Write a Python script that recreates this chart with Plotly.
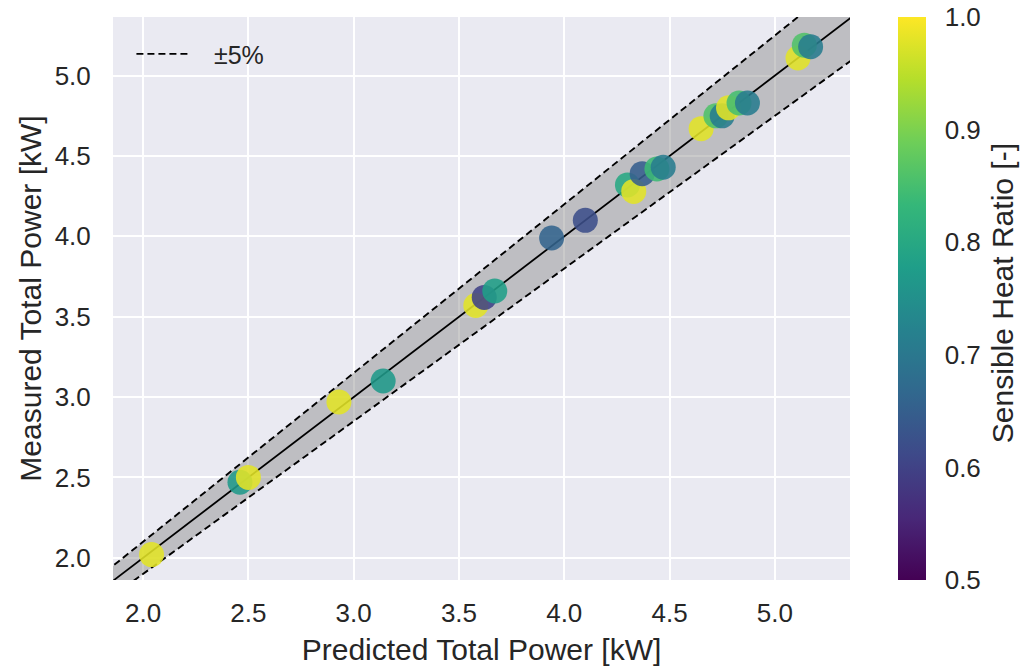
import plotly.graph_objects as go

# Data
predicted = [2.04, 2.46, 2.50, 2.93, 3.14, 3.58, 3.62, 3.67, 3.94, 4.10,
             4.30, 4.33, 4.37, 4.44, 4.47, 4.65, 4.72, 4.75, 4.78, 4.83,
             4.87, 5.11, 5.14, 5.17]
measured = [2.02, 2.47, 2.50, 2.97, 3.10, 3.57, 3.62, 3.66, 3.99, 4.10,
            4.32, 4.28, 4.39, 4.42, 4.43, 4.67, 4.75, 4.75, 4.80, 4.83,
            4.83, 5.11, 5.19, 5.18]
shr = [0.98, 0.77, 0.98, 0.98, 0.77, 0.98, 0.60, 0.78, 0.66, 0.62,
       0.80, 0.98, 0.65, 0.84, 0.71, 0.98, 0.86, 0.71, 0.98, 0.85,
       0.71, 0.98, 0.86, 0.71]

line_x = [1.7, 5.5]
tol = 0.05
upper = [v * (1 + tol) for v in line_x]
lower = [v * (1 - tol) for v in line_x]

xticks = [2.0, 2.5, 3.0, 3.5, 4.0, 4.5, 5.0]
yticks = [2.0, 2.5, 3.0, 3.5, 4.0, 4.5, 5.0]
cticks = [0.5, 0.6, 0.7, 0.8, 0.9, 1.0]

font = "Liberation Sans, Arial, sans-serif"
txt = "#262626"
dash = "7px,4px"

fig = go.Figure()
fig.add_trace(go.Scatter(x=line_x, y=lower, mode="lines",
                         line=dict(color="black", width=1.9, dash=dash),
                         name="\u2002\u2009±5%", showlegend=True, hoverinfo="skip"))
fig.add_trace(go.Scatter(x=line_x, y=upper, mode="lines", fill="tonexty",
                         fillcolor="rgba(128,128,128,0.42)",
                         line=dict(color="black", width=1.9, dash=dash),
                         showlegend=False, hoverinfo="skip"))
fig.add_trace(go.Scatter(x=line_x, y=line_x, mode="lines",
                         line=dict(color="black", width=1.8),
                         showlegend=False, hoverinfo="skip"))
fig.add_trace(go.Scatter(
    x=predicted, y=measured, mode="markers", showlegend=False,
    marker=dict(size=25, color=shr, colorscale="Viridis", cmin=0.5, cmax=1.0,
                opacity=0.88, line=dict(width=0),
                colorbar=dict(
                    tickvals=cticks, ticktext=[f"{v:.1f}" for v in cticks],
                    tickfont=dict(size=26, color=txt, family=font),
                    thickness=28, len=1.0, lenmode="fraction",
                    x=1.065, xanchor="left", y=0.5, yanchor="middle",
                    outlinewidth=0, ticks="outside", ticklen=14,
                    tickcolor="rgba(0,0,0,0)",
                    xpad=0, ypad=0))))

axis_common = dict(showgrid=True, gridcolor="white", gridwidth=2,
                   zeroline=False, showline=False, automargin=False,
                   tickcolor="rgba(0,0,0,0)",
                   tickfont=dict(size=26, color=txt, family=font))
fig.update_xaxes(range=[1.857, 5.357], tickvals=xticks,
                 ticktext=[f"{v:.1f}" for v in xticks],
                 ticks="outside", ticklen=10,
                 title=dict(text="Predicted Total Power [kW]", standoff=11,
                            font=dict(size=30, color=txt, family=font)),
                 **axis_common)
fig.update_yaxes(range=[1.862, 5.365], tickvals=yticks,
                 ticktext=[f"{v:.1f}" for v in yticks],
                 ticks="outside", ticklen=16,
                 title=dict(text="Measured Total Power [kW]", standoff=4,
                            font=dict(size=30, color=txt, family=font)),
                 **axis_common)

fig.add_annotation(text="Sensible Heat Ratio [-]", textangle=-90,
                   xref="paper", yref="paper", x=1.208, y=0.51,
                   xanchor="center", yanchor="middle", showarrow=False,
                   font=dict(size=30, color=txt, family=font))

fig.update_layout(
    width=1024, height=666,
    margin=dict(l=113, r=174, t=17, b=86, autoexpand=False),
    plot_bgcolor="#eaeaf2", paper_bgcolor="white",
    font=dict(family=font, color=txt),
    legend=dict(x=0.025, y=0.975, xanchor="left", yanchor="top",
                bgcolor="rgba(0,0,0,0)", font=dict(size=25, color=txt, family=font),
                itemwidth=55),
)

fig.write_html("out.html")
